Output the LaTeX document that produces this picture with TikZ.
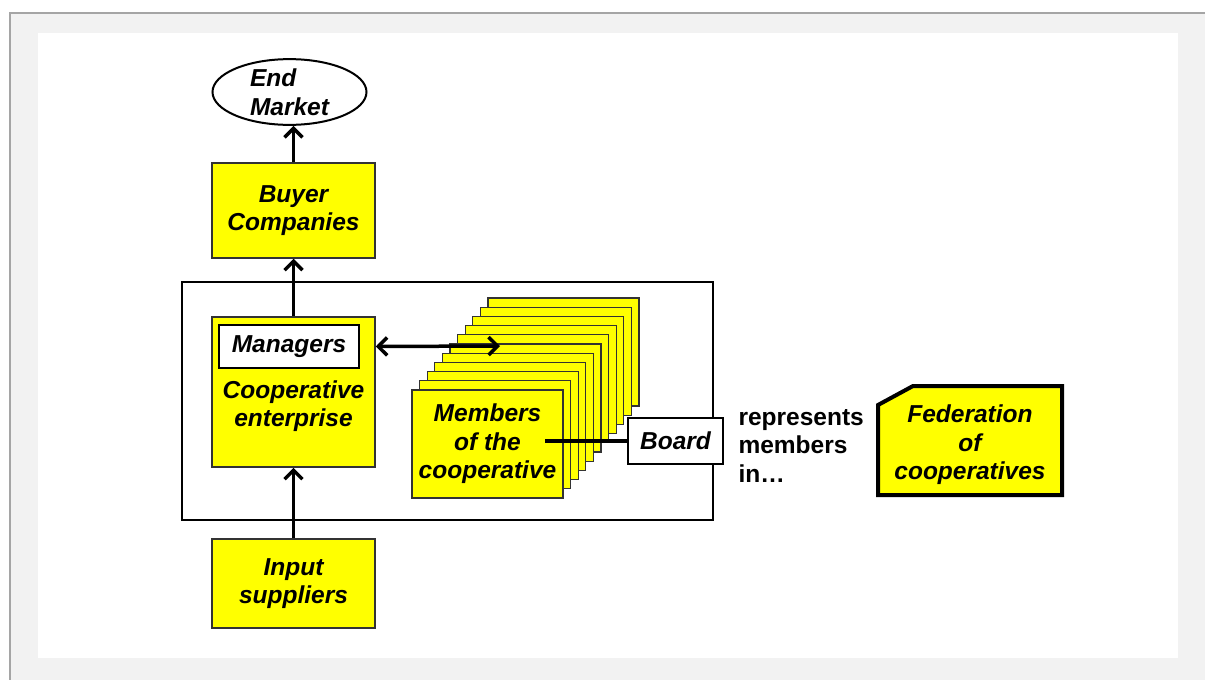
\documentclass[tikz,border=0pt]{standalone}
\usepackage{fontspec}
\setmainfont{Liberation Sans}
\usetikzlibrary{arrows.meta,shapes.geometric}

\definecolor{boxyellow}{RGB}{255,255,0}
\definecolor{framegray}{RGB}{242,242,242}
\definecolor{rulegray}{RGB}{165,165,165}

\tikzset{
  every node/.style={font=\fontsize{24.5}{28.5}\selectfont\bfseries\itshape, align=center},
  actor/.style={draw=black!80, line width=1.5pt, fill=boxyellow, inner sep=0pt},
  tag/.style={draw=black, line width=2pt, fill=white, inner sep=0pt},
  card/.style={draw=black!80, line width=1.2pt, fill=boxyellow, inner sep=0pt,
    minimum width=151pt, minimum height=108pt},
  barb/.tip={Straight Barb[length=9pt,width=18pt]},
  flow/.style={line width=3.5pt, -barb},
}

\begin{document}
\begin{tikzpicture}[x=1pt,y=-1pt]
  % frame
  \useasboundingbox (0,0) rectangle (1205,680);
  \fill[framegray] (10,13) rectangle (1205,680);
  \draw[rulegray, line width=1.5pt] (10,680) -- (10,13) -- (1205,13);
  \fill[white] (38,33) rectangle (1178,658);

  % the cooperative
  \draw[line width=2pt] (182,282) rectangle (713,520);

  \node[ellipse, draw, line width=2pt, fill=white, inner sep=0pt, align=left,
    minimum width=154pt, minimum height=62pt] (market) at (289.5,92) {End\\Market};
  \node[actor, minimum width=163pt, minimum height=95pt] (buyer) at (293.5,210.5) {Buyer\\Companies};
  \node[actor, minimum width=163pt, minimum height=150pt] (coop) at (293.5,392) {};
  \node (cooptext) at (293.5,406) {Cooperative\\enterprise};
  \node[tag, minimum width=140pt, minimum height=43pt] (managers) at (289,346.5) {Managers};
  \node[actor, minimum width=163pt, minimum height=89pt] (input) at (293.5,583.5) {Input\\suppliers};

  % stack of members
  \foreach \i in {10,...,1}
    \node[card] (layer\i) at ({487.5+7.6*\i},{444-9.2*\i}) {};
  \node[card] (members) at (487.5,444) {Members\\of the\\cooperative};

  \node[tag, minimum width=95pt, minimum height=46pt] (board) at (675.5,441) {Board};
  \coordinate (tie) at (545,441);
  \coordinate (reach) at (500,346);

  \node[anchor=west, align=left, font=\fontsize{24.5}{28.5}\selectfont\bfseries] (represents) at (735,446) {represents\\members\\in…};

  % federation
  \filldraw[fill=boxyellow, line width=4pt, line join=miter]
    (878,405) -- (913,386) -- (1062,386) -- (1062,495) -- (878,495) -- cycle;
  \node (federation) at (970,445) {Federation\\of\\cooperatives};

  % flows
  \draw[flow] (buyer.north) -- (buyer.north |- market.south);
  \draw[flow] (coop.north) -- (buyer.south);
  \draw[flow] (input.north) -- (coop.south);
  \draw[line width=3.5pt, barb-barb] (coop.east |- managers) -- (reach);
  \draw[line width=4pt] (tie) -- (board.west);
\end{tikzpicture}
\end{document}
